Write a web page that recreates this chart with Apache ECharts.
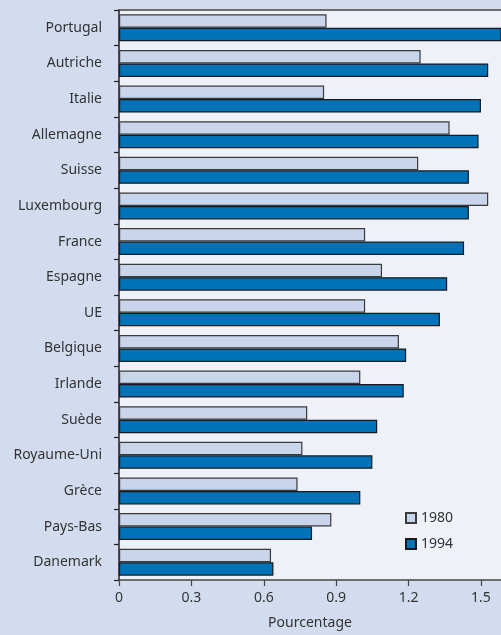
<!DOCTYPE html>
<html>
<head>
<meta charset="utf-8">
<script src="https://cdn.jsdelivr.net/npm/echarts@6/dist/echarts.min.js"></script>
<style>
  html, body { margin: 0; padding: 0; background: #d3dcee; }
  #chart { width: 501px; height: 635px; }
</style>
</head>
<body>
<div id="chart"></div>
<script>
// Countries, top to bottom
const countries = ['Portugal', 'Autriche', 'Italie', 'Allemagne', 'Suisse', 'Luxembourg', 'France',
  'Espagne', 'UE', 'Belgique', 'Irlande', 'Suède', 'Royaume-Uni', 'Grèce', 'Pays-Bas', 'Danemark'];

// Percentage values per year
const values1980 = [0.86, 1.25, 0.85, 1.37, 1.24, 1.53, 1.02, 1.09, 1.02, 1.16, 1.00, 0.78, 0.76, 0.74, 0.88, 0.63];
const values1994 = [1.60, 1.53, 1.50, 1.49, 1.45, 1.45, 1.43, 1.36, 1.33, 1.19, 1.18, 1.07, 1.05, 1.00, 0.80, 0.64];

const xTicks = [0, 0.3, 0.6, 0.9, 1.2, 1.5];

const FONT = '"Noto Sans", "Open Sans", sans-serif';
const TEXT = '#333333';
const AXIS = '#444444';

const chart = echarts.init(document.getElementById('chart'), null, { renderer: 'canvas' });

chart.setOption({
  backgroundColor: '#d3dcee',
  animation: false,
  textStyle: { fontFamily: FONT },
  grid: {
    left: 119, right: 0, top: 10, bottom: 51,
    show: true, backgroundColor: '#eef1f8', borderWidth: 0
  },
  legend: {
    orient: 'vertical',
    left: 400, top: 506,
    itemWidth: 10, itemHeight: 10, itemGap: 12,
    icon: 'rect',
    textStyle: { fontSize: 14, color: TEXT, fontFamily: FONT },
    data: ['1980', '1994']
  },
  xAxis: [{
    type: 'value',
    min: 0, max: 1.583, interval: 0.3,
    name: 'Pourcentage',
    nameLocation: 'middle',
    nameGap: 36,
    nameTextStyle: { fontSize: 14, color: TEXT },
    axisLine: { show: true, lineStyle: { color: AXIS, width: 1.5 } },
    axisTick: { show: true, length: 6, lineStyle: { color: AXIS, width: 1.2 } },
    axisLabel: {
      fontSize: 14, color: TEXT, margin: 11, showMaxLabel: false,
      formatter: v => xTicks.includes(Math.round(v * 10) / 10) ? String(Math.round(v * 10) / 10) : ''
    },
    splitLine: { show: false }
  }, {
    type: 'value',
    position: 'top',
    min: 0, max: 1.583,
    axisLine: { show: true, lineStyle: { color: AXIS, width: 1.5 } },
    axisTick: { show: false },
    axisLabel: { show: false },
    splitLine: { show: false }
  }],
  yAxis: {
    type: 'category',
    inverse: true,
    data: countries,
    axisLine: { show: true, lineStyle: { color: '#222222', width: 1.5 } },
    axisTick: { show: true, length: 5, lineStyle: { color: '#222222', width: 1.2 } },
    axisLabel: { fontSize: 14, color: TEXT, margin: 17 }
  },
  series: [{
    name: '1980',
    type: 'bar',
    data: values1980,
    barWidth: 13.5,
    barGap: '0%',
    itemStyle: { color: '#c8d5ea', borderColor: '#3a3a3a', borderWidth: 1.2 }
  }, {
    name: '1994',
    type: 'bar',
    data: values1994,
    barWidth: 13.5,
    barGap: '0%',
    itemStyle: { color: '#0073b8', borderColor: '#1a1a1a', borderWidth: 1.2 }
  }]
});
</script>
</body>
</html>
